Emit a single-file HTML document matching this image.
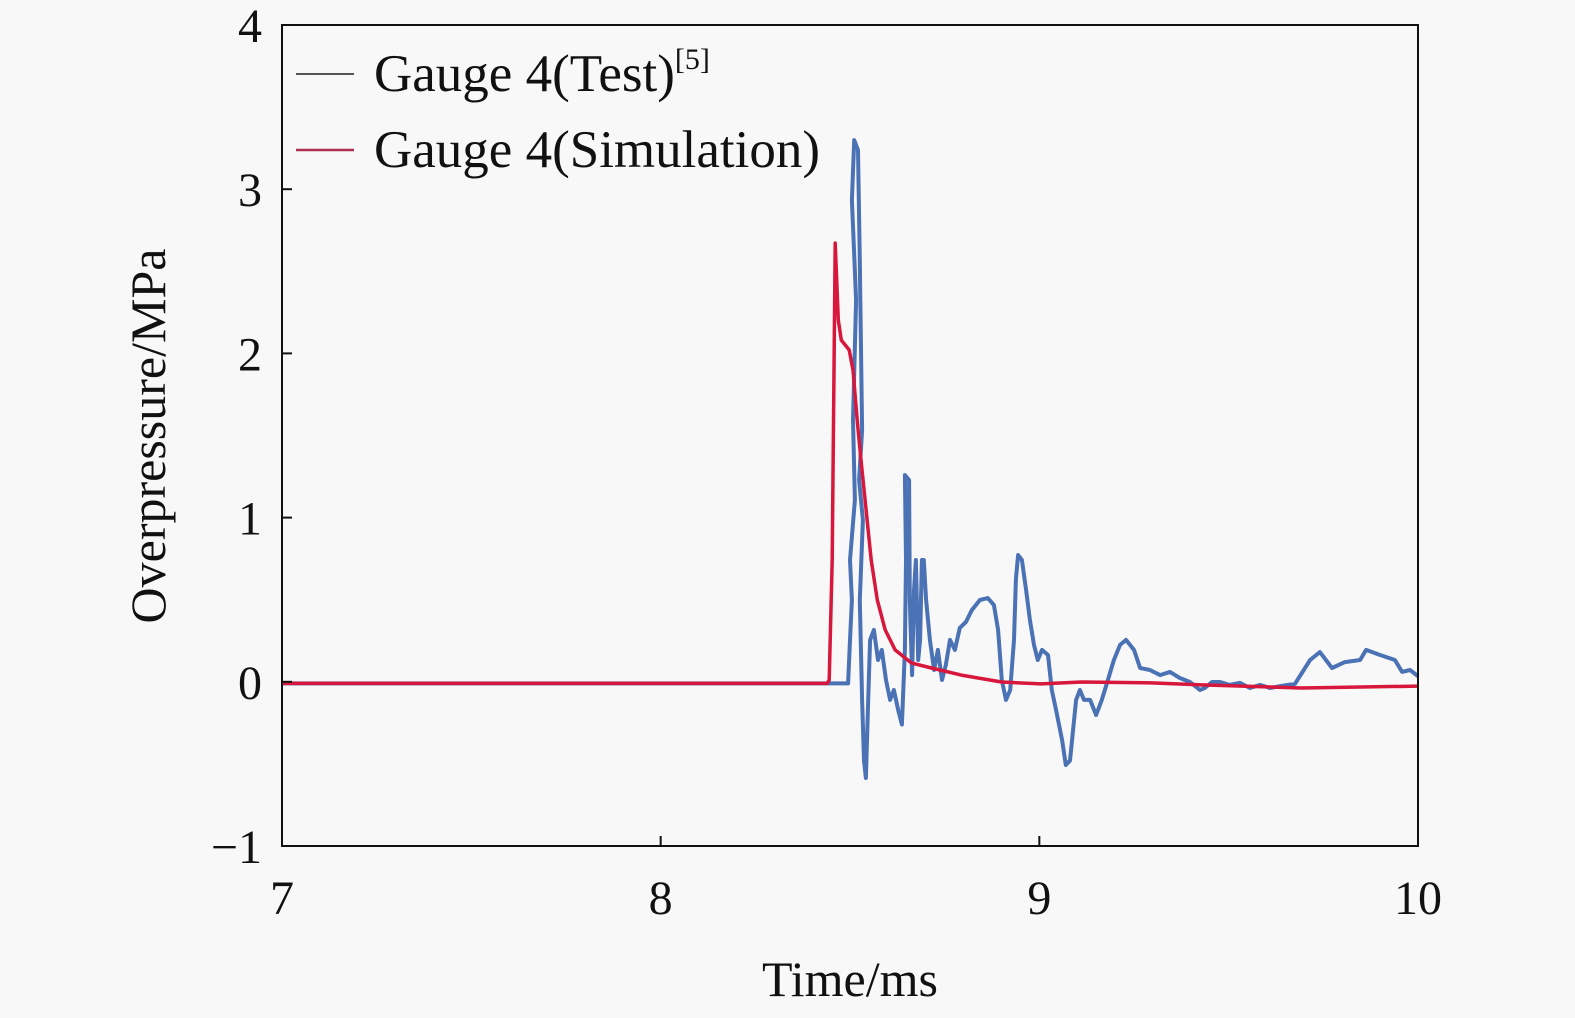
<!DOCTYPE html>
<html><head><meta charset="utf-8"><style>
html,body{margin:0;padding:0;background:#f8f8f8;overflow:hidden;width:1575px;height:1018px;}
svg{display:block;font-family:"Liberation Serif",serif;}
</style></head><body>
<svg id="chart" width="1575" height="1018" viewBox="0 0 1575 1018" xmlns="http://www.w3.org/2000/svg" style="position:absolute;left:0;top:0">
<rect x="0" y="0" width="1575" height="1018" fill="#f8f8f8"/>
<g id="plot"></g>
<text x="850" y="996" font-size="50" text-anchor="middle" fill="#111">Time/ms</text>
<text transform="translate(165,436) rotate(-90)" font-size="50" text-anchor="middle" fill="#111">Overpressure/MPa</text>
<g fill="#111">
<line x1="296" y1="74" x2="354" y2="74" stroke="#555" stroke-width="2"/>
<text x="374" y="91" font-size="53">Gauge 4(Test)<tspan font-size="30" dy="-22">[5]</tspan></text>
<line x1="296" y1="150" x2="354" y2="150" stroke="#b03050" stroke-width="2.5"/>
<text x="374" y="167" font-size="53">Gauge 4(Simulation)</text>
</g>
</svg>
<script>
const xTicks=[7,8,9,10];
const yTicks=[-1,0,1,2,3,4];
const yTickLabels=["\u22121","0","1","2","3","4"];
const testT=[7,8.495,8.500,8.505,8.500,8.513,8.508,8.516,8.505,8.511,8.521,8.526,8.532,8.524,8.534,8.526,8.532,8.537,8.542,8.548,8.553,8.563,8.574,8.584,8.595,8.606,8.616,8.627,8.637,8.645,8.648,8.645,8.656,8.658,8.664,8.669,8.674,8.680,8.685,8.690,8.695,8.701,8.711,8.722,8.732,8.743,8.753,8.764,8.777,8.790,8.806,8.822,8.843,8.864,8.880,8.891,8.901,8.912,8.923,8.933,8.938,8.944,8.954,8.965,8.975,8.986,8.996,9.007,9.023,9.033,9.044,9.060,9.070,9.081,9.097,9.107,9.118,9.134,9.150,9.165,9.181,9.197,9.213,9.229,9.250,9.266,9.292,9.319,9.345,9.371,9.398,9.424,9.437,9.456,9.477,9.503,9.530,9.556,9.583,9.609,9.636,9.675,9.715,9.741,9.773,9.807,9.847,9.863,9.900,9.939,9.958,9.979,10.0];
const testV=[-0.01,-0.01,0.255,0.498,0.742,1.107,1.594,2.325,2.934,3.299,3.239,2.569,1.533,1.229,0.985,0.498,-0.11,-0.48,-0.586,-0.11,0.255,0.316,0.133,0.194,0.011,-0.11,-0.05,-0.17,-0.26,0.194,0.742,1.259,1.229,0.498,0.041,0.559,0.742,0.133,0.255,0.742,0.742,0.498,0.255,0.072,0.194,0.011,0.102,0.255,0.194,0.328,0.364,0.437,0.498,0.510,0.468,0.316,0.011,-0.11,-0.05,0.255,0.624,0.772,0.742,0.559,0.377,0.224,0.133,0.194,0.163,-0.05,-0.17,-0.355,-0.507,-0.48,-0.11,-0.05,-0.11,-0.11,-0.202,-0.11,0.011,0.133,0.224,0.255,0.194,0.084,0.072,0.041,0.060,0.023,-0.001,-0.05,-0.038,-0.001,-0.001,-0.019,-0.007,-0.038,-0.019,-0.038,-0.026,-0.013,0.133,0.181,0.084,0.120,0.133,0.194,0.163,0.133,0.060,0.072,0.035];
const simT=[7,8.440,8.445,8.453,8.461,8.469,8.477,8.498,8.508,8.519,8.529,8.540,8.556,8.572,8.593,8.619,8.662,8.715,8.794,8.900,9.005,9.111,9.296,9.428,9.692,10.0];
const simV=[-0.01,-0.01,0.011,0.742,2.672,2.203,2.081,2.021,1.899,1.594,1.351,1.107,0.742,0.498,0.316,0.194,0.115,0.084,0.041,-0.001,-0.013,-0.001,-0.007,-0.019,-0.038,-0.026];

const L=282,R=1418,T=25,B=846;
const xS=t=>L+(t-7)/3*(R-L);
const yS=v=>B-(v+1)/5*(B-T);
const NS="http://www.w3.org/2000/svg";
const g=document.getElementById('plot');
function mk(tag,attrs){const e=document.createElementNS(NS,tag);for(const k in attrs)e.setAttribute(k,attrs[k]);g.appendChild(e);return e;}

function line(ts,vs,color,w,name){
  let d='';ts.forEach((t,i)=>{d+=(i?'L':'M')+xS(t).toFixed(1)+','+yS(vs[i]).toFixed(1);});
  const p=mk('path',{d:d,fill:'none',stroke:color,'stroke-width':w,'stroke-linejoin':'round'});
  
  
}
line(testT,testV,'#4a72b4',4,'test-series-line');
line(simT,simV,'#d8173c',3.5,'simulation-series-line');

const frame=mk('rect',{x:L,y:T,width:R-L,height:B-T,fill:'none',stroke:'#111','stroke-width':2});



xTicks.forEach(t=>{
  const x=xS(t);
  const tk=mk('line',{x1:x,y1:B,x2:x,y2:B-10,stroke:'#111','stroke-width':2});
  
  
  const tx=mk('text',{x:x,y:914,'font-size':48,'text-anchor':'middle',fill:'#111'});
  tx.textContent=t;
  
  
});
yTicks.forEach((v,i)=>{
  const y=yS(v);
  const tk=mk('line',{x1:L,y1:y,x2:L+10,y2:y,stroke:'#111','stroke-width':2});
  
  
  const tx=mk('text',{x:262,y:y+17,'font-size':48,'text-anchor':'end',fill:'#111'});
  tx.textContent=yTickLabels[i];
  
  
});
</script>
</body></html>
